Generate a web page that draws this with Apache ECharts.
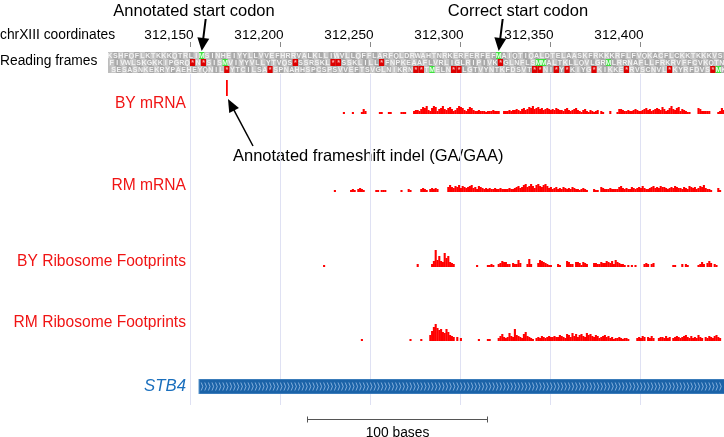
<!DOCTYPE html>
<html><head><meta charset="utf-8">
<script src="https://cdn.jsdelivr.net/npm/echarts@6/dist/echarts.min.js"></script>
<style>html,body{margin:0;padding:0;background:#fff}#c{width:724px;height:437px}</style>
</head><body><div id="c"></div>
<script>
// ---------------- DATA ----------------
const viewStart = 312104.444, viewEnd = 312446.667;
const tickValues = [312150, 312200, 312250, 312300, 312350, 312400];
const frameStarts = [312104, 312105, 312106];
const frame1 = "KSHFQFLKTKKKQTRLIM" + "SINHEIYYLLVVEFHRRVALKLLIWVLLQFFLARF" + "QLDRWAHTNRKERFERFEF" + "M" + "AIQTIQALDTELAASKFRKKKRFLFVQKACFLCKKTKKKVS";
const frame2 = "FIVWLSKGKKIPGRQ" + "*" + "N" + "*" + "SIS" + "M" + "VIYYVLLYTVQS" + "*" + "SSRSKL" + "**" + "SSKLILL" + "*" + "FNPKEAAFLVRLIGLRIPIVK" + "*" + "GLNFLS" + "MM" + "ALTKLLQVLGR" + "M" + "LRRNAFLLFRKRVFFCVKQTN";
const frame3 = "SESASNKEKRYPAEHEYQNIL" + "*" + "YTCILSA" + "*" + "SPNAHHSPCSPSVVEFTSVGLNIKRN" + "**" + "T" + "M" + "ELN" + "**" + "LGTVYNTKFDSVT" + "**" + "NI" + "*" + "Y" + "*" + "KIYG" + "*" + "KIKKE" + "*" + "RVSCNVL" + "*" + "KYRFDVS" + "*" + "M" + "K";
const startCodons = [{frame: 0, index: 17, label: "Annotated start codon"}, {frame: 0, index: 72, label: "Correct start codon"}];
const indelPos = 312170;
const geneName = "STB4", geneStart = 312155, geneEnd = 312600;
const scaleBarBases = [312215, 312315];

// coverage runs: [start position, [coverage per base...]]
const byMrnaRuns = [
  [312235, [2]], [312240, [2]], [312245, [2, 5, 3]], [312255, [2, 2]], [312260, [2, 2]], [312267, [2, 2, 2]],
  [312274, [3,4,4,3,5,7,6,8,4,3, 6,8,7,3,5,6,8,5,4,6, 7,5,3,4,6,8,7,6,4,3, 5,7,6,4,3,3,4,3,3,3, 2,3,3,3,4,3,3,3]],
  [312324, [3,3,3,4,3,4,4,5,4,3, 5,6,4,5,7,6,8,5,6,7, 5,6,4,5,6,5,4,5,4,6, 5,4,4,3,5,6,4,3,4,5, 6,4,3,2,4,5,3,2,4,3, 2,3,4]],
  [312378, [3, 2]], [312383, [3]],
  [312387, [2,5,5,4,3,3,4,3,3,4, 5,4,3,3,4,5,6,4,5,3, 4,5,6,5,4,7,5,3,4,6, 8,5,4,6,7,3,5,4,3,2, 2]],
  [312432, [6, 5, 3, 3, 3, 3, 3]], [312443, [2, 3, 6, 4]]
];
const rmMrnaRuns = [
  [312230, [2]], [312239, [2, 3, 2]], [312243, [3, 4, 3, 2]], [312253, [2, 2]], [312256, [2, 2, 2]], [312267, [2]],
  [312271, [3, 2]], [312278, [3, 4, 3, 2]], [312283, [3, 4, 3, 4, 3]],
  [312293, [5,7,5,4,6,5,7,4,6,5, 4,5,6,7,4,5,3,6,5,4, 3,4,3,4,3,3,4,3,3,4, 3,3,3,3,4,3,3,4,5,6, 4,5,7,8,5,6,8,6,4,7, 8,6,5,7,8,6,4,5,3,4, 5,3,4,3,5,4,3,4,3,5, 4,3,3,2,3,4,3,2]],
  [312374, [3, 2, 2]],
  [312378, [5,4,3,3,3,4,3,3,3,3, 5,6,4,3,4,3,3,5,4,3, 4,5,4,6,4,3,3,4,5,6, 4,5,4,6,5,5,4,3,4,5, 4,6,5,4,4,3,5,4,3,6, 5,4,5,3,4,6,5,7,4,3, 3,2]],
  [312443, [4, 2]]
];
const byRiboRuns = [
  [312224, [2]], [312276, [3]], [312284, [3, 6, 17, 7, 11, 6, 5, 14, 9, 11, 5, 4, 3]], [312309, [2]],
  [312315, [2, 2, 3, 2]], [312321, [3, 4, 6, 5, 5, 3, 3]], [312329, [4, 3, 3, 7, 4]], [312337, [3, 8, 3]],
  [312343, [4, 7, 6, 5, 4, 3, 2, 2]], [312354, [3, 2]], [312359, [6, 5, 3, 3]], [312364, [5, 5, 4, 2, 5, 4, 3]],
  [312374, [4, 4, 3, 3, 5, 4, 4, 6, 5, 4, 6, 3, 7, 5, 4, 3, 3, 2]], [312393, [2]], [312395, [2]], [312397, [2]],
  [312402, [3, 4, 3]], [312406, [3, 4]], [312418, [2, 2]], [312423, [3]], [312425, [3, 2]],
  [312432, [2, 3, 5, 3]], [312437, [4, 6, 4]], [312441, [3, 2]]
];
const rmRiboRuns = [
  [312245, [2]], [312272, [2]], [312278, [2]], [312283, [6, 10, 14, 17, 13, 11, 12, 9, 8, 12, 9, 6, 5, 4]],
  [312298, [4]], [312300, [3]], [312310, [2]], [312315, [2, 2]],
  [312321, [3, 5, 7, 4, 3, 4, 8, 5, 4, 12, 6, 5, 4, 3, 7, 9, 5, 4, 3, 2]],
  [312342, [3,4,3,5,4,3,4,5,4,4, 5,4,4,6,5,4,3,7,6,4, 8,5,7,4,6,7,5,4,8,6, 7,5,4,6,5,3,4,5,6,4, 5,3,4,2,3,3,4,3,2,3, 3,2]],
  [312398, [3, 4, 3, 5, 4]], [312404, [4, 3, 5, 3]], [312410, [3, 4, 4, 3, 5, 3, 4]],
  [312418, [3, 4, 5, 4, 3, 4, 5, 6, 4, 3, 5, 3, 4, 3, 6, 4, 3]], [312436, [4, 3, 5, 4, 3, 5, 6, 4, 3]]
];
const trackLabels = ["BY mRNA", "RM mRNA", "BY Ribosome Footprints", "RM Ribosome Footprints"];

// ---------------- LAYOUT ----------------
const FONT = '"Liberation Sans", Arial, Helvetica, sans-serif';
const RED = '#ff0000';
const layout = [
  {top: 30, height: 18, ymax: 1},                 // 0 ruler
  {top: 52, height: 21, ymax: 3, inverse: true, bg: '#bdbdbd'}, // 1 frames
  {top: 74, height: 331, ymax: 1},                // 2 grid lines / indel
  {top: 94, height: 20, ymax: 20},                // 3 BY mRNA
  {top: 172, height: 20, ymax: 20},               // 4 RM mRNA
  {top: 245, height: 22, ymax: 22},               // 5 BY ribo
  {top: 319, height: 22, ymax: 22},               // 6 RM ribo
  {top: 379, height: 15, ymax: 1},                // 7 gene
  {top: 412, height: 14, ymax: 1}                 // 8 scale bar
];
const labelY = [104, 186, 262, 323];

const grids = layout.map(g => ({left: 108, right: 0, top: g.top, height: g.height,
  show: !!g.bg, backgroundColor: g.bg || 'transparent', borderWidth: 0}));
const xAxes = layout.map((g, i) => ({type: 'value', gridIndex: i, min: viewStart, max: viewEnd, show: false}));
const yAxes = layout.map((g, i) => ({type: 'value', gridIndex: i, min: 0, max: g.ymax, inverse: !!g.inverse, show: false}));

function arrow(x1, y1, x2, y2, lw, headLen, headW) {
  const dx = x2 - x1, dy = y2 - y1, L = Math.hypot(dx, dy), ux = dx / L, uy = dy / L;
  const bx = x2 - ux * headLen, by = y2 - uy * headLen, px = -uy, py = ux;
  return [
    {type: 'line', shape: {x1: x1, y1: y1, x2: bx + ux * 2, y2: by + uy * 2}, style: {stroke: '#000', lineWidth: lw}},
    {type: 'polygon', shape: {points: [[x2, y2], [bx + px * headW, by + py * headW], [bx - px * headW, by - py * headW]]}, style: {fill: '#000'}}
  ];
}

function runsToData(runs) {
  const d = [];
  runs.forEach(([s, vals]) => vals.forEach((v, i) => { if (v > 0) d.push([s + i, v]); }));
  return d;
}
function coverageSeries(idx, runs) {
  return {
    type: 'custom', xAxisIndex: idx, yAxisIndex: idx, data: runsToData(runs), clip: true, silent: true,
    renderItem: function (params, api) {
      const p = api.value(0), v = api.value(1);
      const a = api.coord([p, v]), b = api.coord([p + 1, 0]);
      return {type: 'rect', shape: {x: a[0] - 0.15, y: a[1], width: b[0] - a[0] + 0.3, height: b[1] - a[1]}, style: {fill: RED}};
    }
  };
}

const frames = [frame1, frame2, frame3];
const frameData = [];
frames.forEach((s, r) => { for (let k = 0; k < s.length; k++) frameData.push([frameStarts[r] + 3 * k, r, k]); });

const series = [
  // grid lines
  {type: 'custom', xAxisIndex: 2, yAxisIndex: 2, data: tickValues.map(v => [v]), silent: true, z: 1,
    renderItem: function (params, api) {
      const cs = params.coordSys;
      const x = Math.round(api.coord([api.value(0), 0])[0]) + 0.5;
      return {type: 'line', shape: {x1: x, y1: cs.y, x2: x, y2: cs.y + cs.height}, style: {stroke: '#dfe1f3', lineWidth: 1}};
    }},
  // ruler
  {type: 'custom', xAxisIndex: 0, yAxisIndex: 0, data: tickValues.map(v => [v]), silent: true, clip: false,
    renderItem: function (params, api) {
      const cs = params.coordSys, v = api.value(0);
      const x = Math.round(api.coord([v, 0])[0]) + 0.5;
      return {type: 'group', children: [
        {type: 'line', shape: {x1: x, y1: cs.y + 12, x2: x, y2: cs.y + 17}, style: {stroke: '#888', lineWidth: 1}},
        {type: 'text', x: x + 3, y: cs.y + 5, style: {text: v.toLocaleString('en-US'), fill: '#000', font: '13.6px ' + FONT, align: 'right', verticalAlign: 'middle'}}
      ]};
    }},
  // reading frames
  {type: 'custom', xAxisIndex: 1, yAxisIndex: 1, data: frameData, silent: true, clip: true,
    renderItem: function (params, api) {
      const s = api.value(0), r = api.value(1), k = api.value(2);
      const ch = frames[r][k];
      const a = api.coord([s, r]), b = api.coord([s + 3, r + 1]);
      let fill = (k % 2) ? '#a9a9a9' : '#c6c6c6';
      let tf = '#f2f2f2';
      if (ch === '*') { fill = '#dd0000'; tf = '#ffb0b0'; }
      if (ch === 'M') { fill = '#3ee03e'; tf = '#e8ffe8'; }
      return {type: 'group', children: [
        {type: 'rect', shape: {x: a[0], y: a[1], width: b[0] - a[0], height: b[1] - a[1]}, style: {fill: fill}},
        {type: 'text', x: (a[0] + b[0]) / 2, y: (a[1] + b[1]) / 2 + 0.5, style: {text: ch, fill: tf, font: 'bold 7px ' + FONT, align: 'center', verticalAlign: 'middle'}}
      ]};
    }},
  coverageSeries(3, byMrnaRuns),
  coverageSeries(4, rmMrnaRuns),
  coverageSeries(5, byRiboRuns),
  coverageSeries(6, rmRiboRuns),
  // indel + annotation arrow
  {type: 'custom', xAxisIndex: 2, yAxisIndex: 2, data: [[indelPos]], silent: true, clip: false,
    renderItem: function (params, api) {
      const cs = params.coordSys;
      const a = api.coord([api.value(0), 0]), b = api.coord([api.value(0) + 1, 0]);
      const x = a[0];
      return {type: 'group', children: [
        {type: 'rect', shape: {x: x, y: cs.y + 6, width: b[0] - a[0], height: 16}, style: {fill: RED}},
        ...arrow(x + 27, 146, x + 2, 99, 1.5, 13, 5.5)
      ]};
    }},
  // start codon arrows
  {type: 'custom', xAxisIndex: 1, yAxisIndex: 1, data: startCodons.map(c => [frameStarts[c.frame] + 3 * c.index + 1.5]), silent: true, clip: false,
    renderItem: function (params, api) {
      const x = api.coord([api.value(0), 0])[0];
      return {type: 'group', children: arrow(x + 4, 19, x, 51, 2, 13, 6)};
    }},
  // gene model
  {type: 'custom', xAxisIndex: 7, yAxisIndex: 7, data: [[geneStart, geneEnd]], silent: true, clip: true,
    renderItem: function (params, api) {
      const cs = params.coordSys;
      const a = api.coord([api.value(0), 1]), b = api.coord([api.value(1), 0]);
      const ch = [{type: 'rect', shape: {x: a[0], y: a[1], width: b[0] - a[0], height: b[1] - a[1]}, style: {fill: '#1b63a8', stroke: '#5a95cc', lineWidth: 1}}];
      const step = api.size([2, 0])[0];
      for (let x = a[0] + 3; x < Math.min(b[0], cs.x + cs.width) - 1; x += step) {
        ch.push({type: 'polyline', shape: {points: [[x - 0.8, a[1] + 3.5], [x + 0.8, (a[1] + b[1]) / 2], [x - 0.8, b[1] - 3.5]]}, style: {stroke: 'rgba(200,225,255,0.75)', lineWidth: 0.8, fill: null}});
      }
      return {type: 'group', children: ch};
    }},
  // scale bar
  {type: 'custom', xAxisIndex: 8, yAxisIndex: 8, data: [scaleBarBases], silent: true, clip: false,
    renderItem: function (params, api) {
      const cs = params.coordSys;
      const x1 = Math.round(api.coord([api.value(0), 0])[0]) + 0.5, x2 = Math.round(api.coord([api.value(1), 0])[0]) + 0.5;
      const y = cs.y + 7.5;
      const n = api.value(1) - api.value(0);
      return {type: 'group', children: [
        {type: 'line', shape: {x1: x1, y1: y, x2: x2, y2: y}, style: {stroke: '#555', lineWidth: 1}},
        {type: 'line', shape: {x1: x1, y1: y - 3, x2: x1, y2: y + 3}, style: {stroke: '#555', lineWidth: 1}},
        {type: 'line', shape: {x1: x2, y1: y - 3, x2: x2, y2: y + 3}, style: {stroke: '#555', lineWidth: 1}},
        {type: 'text', x: (x1 + x2) / 2, y: cs.y + 21, style: {text: n + ' bases', fill: '#000', font: '13.8px ' + FONT, align: 'center', verticalAlign: 'middle'}}
      ]};
    }}
];

const graphic = [
  {type: 'text', x: 0, y: 35, style: {text: 'chrXIII coordinates', font: '13.8px ' + FONT, fill: '#000', verticalAlign: 'middle'}},
  {type: 'text', x: 0, y: 61, style: {text: 'Reading frames', font: '13.8px ' + FONT, fill: '#000', verticalAlign: 'middle'}},
  {type: 'text', x: 194, y: 11, style: {text: startCodons[0].label, font: '16.5px ' + FONT, fill: '#000', align: 'center', verticalAlign: 'middle'}},
  {type: 'text', x: 518, y: 11, style: {text: startCodons[1].label, font: '16.5px ' + FONT, fill: '#000', align: 'center', verticalAlign: 'middle'}},
  {type: 'text', x: 233, y: 156, style: {text: 'Annotated frameshift indel (GA/GAA)', font: '16.5px ' + FONT, fill: '#000', verticalAlign: 'middle'}},
  {type: 'text', x: 186, y: 386, style: {text: geneName, font: 'italic 16.8px ' + FONT, fill: '#1a6fbd', align: 'right', verticalAlign: 'middle'}}
].concat(trackLabels.map((t, i) => ({type: 'text', x: 186, y: labelY[i], style: {text: t, font: '15.6px ' + FONT, fill: '#f01414', align: 'right', verticalAlign: 'middle'}})));

const chart = echarts.init(document.getElementById('c'), null, {width: 724, height: 437});
chart.setOption({animation: false, backgroundColor: '#fff', grid: grids, xAxis: xAxes, yAxis: yAxes, series: series, graphic: graphic});
</script></body></html>
